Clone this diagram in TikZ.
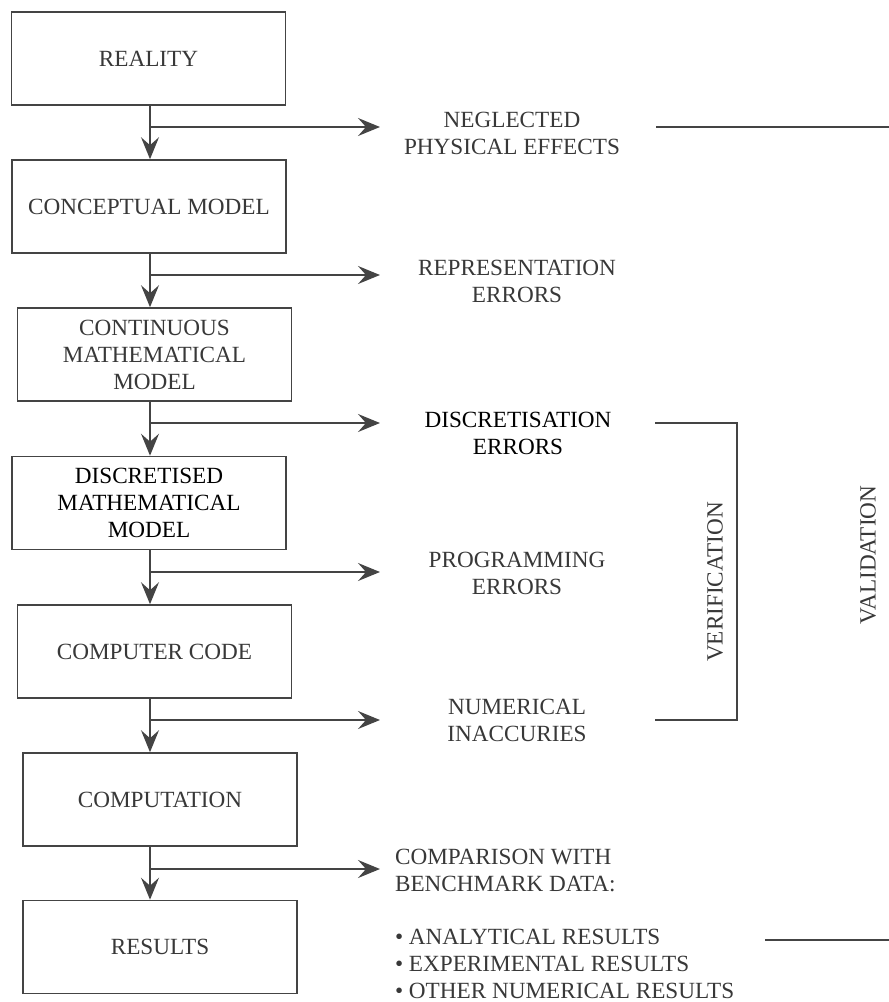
\documentclass[tikz,border=0pt]{standalone}
\usepackage{fontspec}
\setmainfont{Liberation Serif}
\usetikzlibrary{arrows.meta, positioning}
\definecolor{linegray}{HTML}{444444}
\definecolor{textgray}{HTML}{383838}

\begin{document}
\begin{tikzpicture}[x=0.5pt, y=-0.5pt,
    caixa/.style={draw=linegray, line width=0.8pt, minimum width=137pt, minimum height=46.5pt, align=center, text=textgray, font=\fontsize{11.6}{13.5}\selectfont},
    rotulo/.style={align=center, text=textgray, font=\fontsize{11.6}{13.5}\selectfont},
    seta/.style={draw=linegray, line width=0.8pt, -{Stealth[length=11pt, width=9pt, inset=4pt]}},
    linha/.style={draw=linegray, line width=0.8pt}]
    \useasboundingbox (0,0) rectangle (889,1002);

    % Caixas
    \node[caixa] (real) at (148.5, 58.5) {REALITY};
    \node[caixa] (concept) at (149, 206.5) {CONCEPTUAL MODEL};
    \node[caixa] (contin) at (154.5, 354.5) {CONTINUOUS\\MATHEMATICAL\\MODEL};
    \node[caixa, text=black] (discr) at (149, 503) {DISCRETISED\\MATHEMATICAL\\MODEL};
    \node[caixa] (code) at (154.5, 651.5) {COMPUTER CODE};
    \node[caixa] (comput) at (160, 799.5) {COMPUTATION};
    \node[caixa] (result) at (160, 947) {RESULTS};

    % Rotulos
    \node[rotulo] (neglect) at (512, 133.5) {NEGLECTED\\PHYSICAL EFFECTS};
    \node[rotulo] (repr) at (517, 281.5) {REPRESENTATION\\ERRORS};
    \node[rotulo, text=black] (discerr) at (518, 433.5) {DISCRETISATION\\ERRORS};
    \node[rotulo] (progerr) at (517, 573) {PROGRAMMING\\ERRORS};
    \node[rotulo] (numerr) at (517, 720.5) {NUMERICAL\\INACCURIES};
    \node[rotulo, align=left, anchor=west] (compar) at (388, 870) {COMPARISON WITH\\BENCHMARK DATA:};
    \node[rotulo, align=left, anchor=west] (bench) at (388, 963.5) {\textbullet\ ANALYTICAL RESULTS\\\textbullet\ EXPERIMENTAL RESULTS\\\textbullet\ OTHER NUMERICAL RESULTS};

    % Setas
    \coordinate (fim) at (380, 0);
    \coordinate (s1) at (150, 127);
    \coordinate (s2) at (150, 275);
    \coordinate (s3) at (150, 423);
    \coordinate (s4) at (150, 572);
    \coordinate (s5) at (150, 720);
    \coordinate (s6) at (150, 869);
    \draw[seta] (s1 |- real.south) -- (s1 |- concept.north);
    \draw[seta] (s1) -- (s1 -| fim);
    \draw[seta] (s2 |- concept.south) -- (s2 |- contin.north);
    \draw[seta] (s2) -- (s2 -| fim);
    \draw[seta] (s3 |- contin.south) -- (s3 |- discr.north);
    \draw[seta] (s3) -- (s3 -| fim);
    \draw[seta] (s4 |- discr.south) -- (s4 |- code.north);
    \draw[seta] (s4) -- (s4 -| fim);
    \draw[seta] (s5 |- code.south) -- (s5 |- comput.north);
    \draw[seta] (s5) -- (s5 -| fim);
    \draw[seta] (s6 |- comput.south) -- (s6 |- result.north);
    \draw[seta] (s6) -- (s6 -| fim);

    % Verificacao
    \coordinate (v1) at (655, 423);
    \coordinate (v2) at (655, 720);
    \draw[linha] (v1) -- ++(82, 0) |- (v2);
    \node[rotulo, rotate=90] (verif) at (715, 582) {VERIFICATION};

    % Validacao
    \coordinate (a1) at (656, 127);
    \coordinate (a2) at (765, 940);
    \coordinate (borda) at (889, 0);
    \draw[linha] (a1) -- (a1 -| borda);
    \draw[linha] (a2) -- (a2 -| borda);
    \node[rotulo, rotate=90] (valid) at (868, 555) {VALIDATION};
\end{tikzpicture}
\end{document}
